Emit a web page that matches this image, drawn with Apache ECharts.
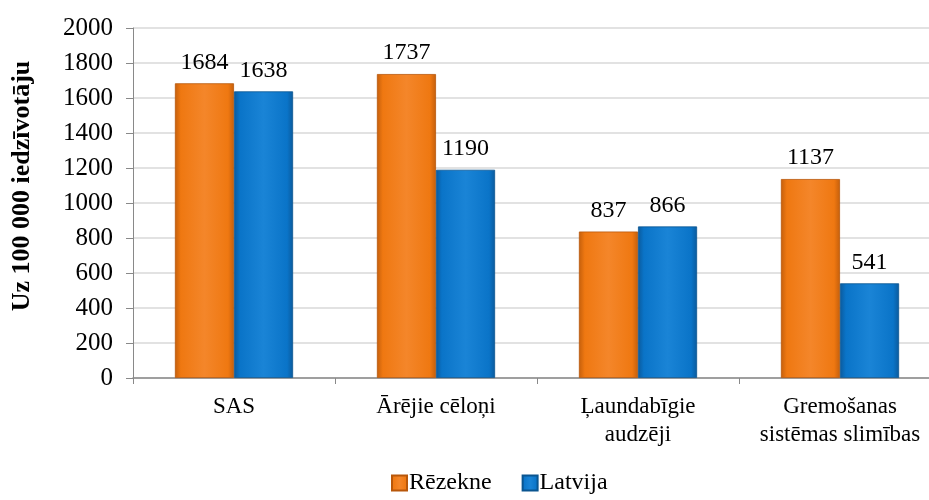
<!DOCTYPE html>
<html><head><meta charset="utf-8">
<script src="https://cdn.jsdelivr.net/npm/echarts@6/dist/echarts.min.js"></script>
<style>html,body{margin:0;padding:0;background:#fff}#c{width:929px;height:500px}</style>
</head><body><div id="c"></div>
<script>
const categories = ['SAS', 'Ārējie cēloņi', 'Ļaundabīgie\naudzēji', 'Gremošanas\nsistēmas slimības'];
const rezekne = [1684, 1737, 837, 1137];
const latvija = [1638, 1190, 866, 541];
const seriesNames = ['Rēzekne', 'Latvija'];
const yTicks = {min: 0, max: 2000, interval: 200};

function grad(dark, base, light) {
  return new echarts.graphic.LinearGradient(0, 0, 1, 0, [
    {offset: 0, color: dark}, {offset: 0.1, color: base}, {offset: 0.5, color: light},
    {offset: 0.9, color: base}, {offset: 1, color: dark}
  ]);
}
const font = 'Liberation Serif';
const chart = echarts.init(document.getElementById('c'));
chart.setOption({
  animation: false,
  textStyle: {fontFamily: font},
  grid: {left: 133, right: -12, top: 28, bottom: 122, outerBoundsMode: 'none', containLabel: false},
  legend: {
    bottom: 0, left: 386, itemWidth: 15, itemHeight: 15, itemGap: 30,
    icon: 'rect',
    textStyle: {fontFamily: font, fontSize: 24, color: '#000', padding: [0, 0, 0, -3]},
    data: seriesNames
  },
  xAxis: {
    type: 'category', data: categories,
    axisLine: {lineStyle: {color: '#898989', width: 1.5}},
    axisTick: {show: true, length: 6, interval: 0, lineStyle: {color: '#898989'}},
    axisLabel: {fontFamily: font, fontSize: 23, color: '#000', margin: 15, lineHeight: 28, interval: 0}
  },
  yAxis: {
    type: 'value', min: yTicks.min, max: yTicks.max, interval: yTicks.interval,
    name: 'Uz 100 000 iedzīvotāju', nameLocation: 'middle', nameGap: 98,
    nameTextStyle: {fontFamily: font, fontSize: 26, fontWeight: 'bold', color: '#000', padding: [0, 0, 0, 34]},
    axisLine: {show: true, lineStyle: {color: '#898989'}},
    axisTick: {show: true, length: 7, lineStyle: {color: '#898989'}},
    axisLabel: {fontFamily: font, fontSize: 25, color: '#000', margin: 20, formatter: v => String(v)},
    splitLine: {lineStyle: {color: '#d9d9d9', width: 1.5}}
  },
  series: [
    {
      name: seriesNames[0], type: 'bar', data: rezekne, barGap: '0%', barCategoryGap: '41.5%',
      itemStyle: {color: grad('#c45f0c', '#ef7811', '#f4862a'), borderColor: '#b8570a', borderWidth: 0.8},
      label: {show: true, position: 'top', distance: 9, fontFamily: font, fontSize: 24, color: '#000'}
    },
    {
      name: seriesNames[1], type: 'bar', data: latvija,
      itemStyle: {color: grad('#0b5a9c', '#0a74c8', '#1a84d6'), borderColor: '#0a5590', borderWidth: 0.8},
      label: {show: true, position: 'top', distance: 9, fontFamily: font, fontSize: 24, color: '#000'}
    }
  ]
});
</script></body></html>
